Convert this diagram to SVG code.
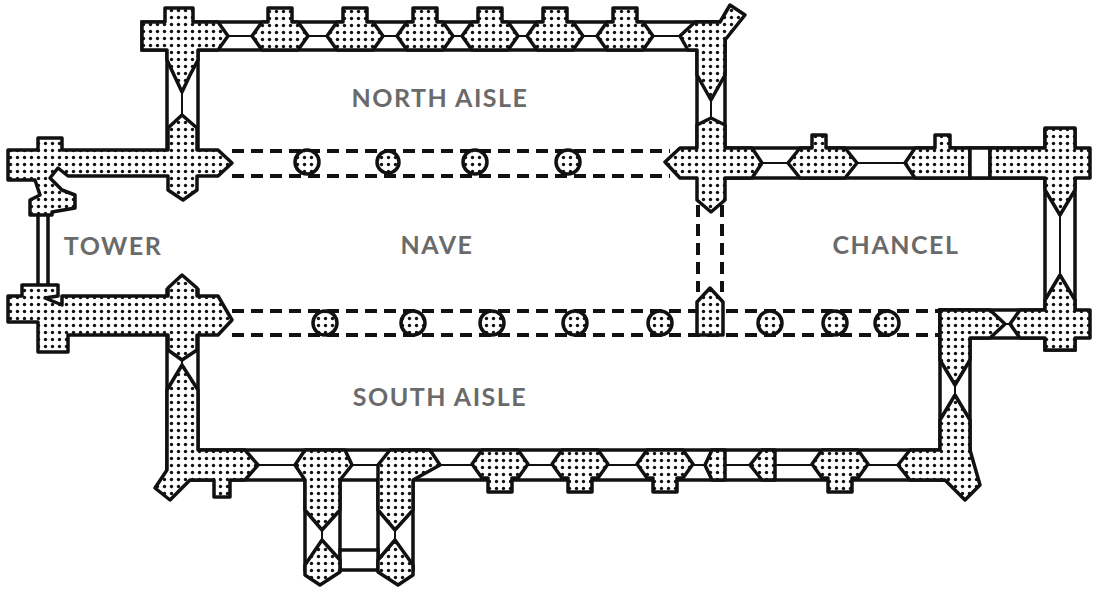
<svg xmlns="http://www.w3.org/2000/svg" width="1100" height="593" viewBox="0 0 1100 593">
<defs>
<pattern id="dots" width="7" height="7" patternUnits="userSpaceOnUse"><rect width="7" height="7" fill="#fff"/><circle cx="3.5" cy="3.5" r="1.7" fill="#111"/></pattern>
<g id="bn"><polygon points="-28,14 -18,0 -12,0 -12,-14 12,-14 12,0 18,0 28,14 18,28 -18,28"/></g>
<g id="bs"><polygon points="-28,14 -18,0 18,0 28,14 18,28 12,28 12,42 -12,42 -12,28 -18,28"/></g>
</defs>
<style>
.w{fill:#fff;stroke:#111;stroke-width:3.5}
.d{fill:url(#dots);stroke:#111;stroke-width:3.5;stroke-linejoin:round}
.win{stroke:#111;stroke-width:2;fill:none}
.dash{stroke:#111;stroke-width:4;stroke-dasharray:12 7;fill:none}
.pier{fill:url(#dots);stroke:#111;stroke-width:3.5}
.t{font-family:Lato,"Open Sans",sans-serif;font-weight:bold;font-size:25px;fill:#6a6a6a;text-anchor:middle;letter-spacing:1.5px}
</style>
<rect width="1100" height="593" fill="#fff"/>

<rect class="w" x="142" y="22" width="583" height="28"/>
<rect class="w" x="167" y="22" width="31" height="140"/>
<rect class="w" x="697" y="22" width="28" height="140"/>
<rect class="w" x="700" y="148" width="375" height="30"/>
<rect class="w" x="1045" y="130" width="30" height="220"/>
<rect class="w" x="940" y="310" width="135" height="28"/>
<rect class="w" x="940" y="310" width="30" height="170"/>
<rect class="w" x="167" y="290" width="31" height="190"/>
<rect class="w" x="167" y="450" width="803" height="30"/>
<rect class="w" x="305" y="480" width="35" height="90"/>
<rect class="w" x="378" y="480" width="35" height="90"/>
<rect class="w" x="340" y="550" width="38" height="20"/>
<rect class="w" x="38" y="205" width="10" height="85"/>
<g class="win">
<line x1="200" y1="36" x2="700" y2="36"/>
<line x1="182" y1="50" x2="182" y2="125"/>
<line x1="711" y1="50" x2="711" y2="150"/>
<line x1="720" y1="163" x2="1050" y2="163"/>
<line x1="1060" y1="178" x2="1060" y2="310"/>
<line x1="970" y1="324" x2="1050" y2="324"/>
<line x1="955" y1="338" x2="955" y2="455"/>
<line x1="182" y1="350" x2="182" y2="455"/>
<line x1="200" y1="465" x2="945" y2="465"/>
<line x1="322" y1="480" x2="322" y2="560"/>
<line x1="395" y1="480" x2="395" y2="560"/>
</g>
<rect x="200" y="52" width="495" height="96" fill="#fff"/>

<g id="arcades">
<line class="dash" x1="232" y1="151" x2="670" y2="151"/>
<line class="dash" x1="232" y1="176" x2="670" y2="176"/>
<line class="dash" x1="232" y1="311" x2="940" y2="311"/>
<line class="dash" x1="232" y1="335" x2="940" y2="335"/>
<line class="dash" x1="698" y1="205" x2="698" y2="292"/>
<line class="dash" x1="722" y1="205" x2="722" y2="292"/>
</g>

<g id="piers">
<circle class="pier" cx="307" cy="162" r="12"/>
<circle class="pier" cx="388" cy="162" r="11"/>
<circle class="pier" cx="475" cy="162" r="12"/>
<circle class="pier" cx="568" cy="162" r="12"/>
<circle class="pier" cx="325" cy="323" r="12"/>
<circle class="pier" cx="413" cy="323" r="12"/>
<circle class="pier" cx="492" cy="323" r="12"/>
<circle class="pier" cx="575" cy="323" r="12"/>
<circle class="pier" cx="660" cy="323" r="12"/>
<circle class="pier" cx="770" cy="323" r="12"/>
<circle class="pier" cx="835" cy="323" r="12"/>
<circle class="pier" cx="887" cy="323" r="12"/>
<polygon class="d" points="697,335 697,302 710,288 723,302 723,335"/>
</g>

<g id="north-wall" class="d">
<use href="#bn" x="280" y="22"/>
<use href="#bn" x="355" y="22"/>
<use href="#bn" x="425" y="22"/>
<use href="#bn" x="490" y="22"/>
<use href="#bn" x="555" y="22"/>
<use href="#bn" x="625" y="22"/>
<polygon points="142,22 165,22 165,8 193,8 193,22 218,22 228,36 218,50 198,50 198,60 190,75 182,92 174,75 167,60 167,50 142,50"/>
<polygon points="680,36 695,22 720,22 730,5 745,15 725,40 725,75 711,100 697,75 697,50 688,50"/>
</g>
<g id="tower" class="d">
<polygon points="8,150 38,150 38,138 62,138 62,150 168,150 168,128 182,115 197,128 197,150 218,150 232,163 218,176 197,176 197,190 183,200 168,190 168,176 68,176 58,168 50,178 62,190 75,195 75,208 52,212 52,215 30,215 30,200 40,195 35,180 8,180"/>
<polygon points="8,296 22,296 22,285 58,285 58,296 45,298 62,305 62,296 168,296 168,288 182,275 197,288 197,296 218,296 232,320 218,335 197,335 197,350 182,360 168,350 168,335 68,335 68,352 38,352 38,322 8,322"/>
</g>
<g id="chancel" class="d">
<polygon points="665,162 680,148 697,148 697,125 711,118 725,125 725,148 752,148 762,163 752,178 725,178 725,200 711,212 697,200 697,178 680,178"/>
<polygon points="788,163 800,148 812,148 812,135 826,135 826,148 845,148 857,163 845,178 800,178"/>
<polygon points="905,163 915,148 935,148 935,135 950,135 950,148 970,148 970,178 915,178"/>
<rect x="970" y="148" width="20" height="30" fill="#fff"/>
<polygon points="990,148 1045,148 1045,128 1075,128 1075,148 1090,148 1090,178 1075,178 1075,190 1060,215 1045,190 1045,178 990,178"/>
<polygon points="1045,310 1045,300 1060,275 1075,300 1075,310 1090,310 1090,338 1075,338 1075,350 1045,350 1045,338 1020,338 1010,324 1020,310"/>
<polygon points="940,310 990,310 1005,324 990,338 970,338 970,360 955,385 940,360"/>
<polygon points="940,420 955,395 970,420 970,450 980,485 965,500 945,480 910,480 898,465 910,450 940,450"/>
</g>
<g id="south-wall" class="d">
<polygon points="167,390 182,365 198,390 198,450 245,450 258,465 245,480 230,480 230,497 214,497 214,480 190,480 170,500 155,488 167,470"/>
<polygon points="295,465 305,450 345,450 352,465 340,480 340,510 322,530 305,510 305,480"/>
<polygon points="378,465 390,450 430,450 440,465 413,480 413,510 395,530 378,510"/>
<polygon points="305,565 322,540 340,560 340,572 320,585 305,575"/>
<polygon points="378,560 395,540 413,565 413,575 398,585 378,572"/>
<use href="#bs" x="500" y="450"/>
<use href="#bs" x="580" y="450"/>
<use href="#bs" x="665" y="450"/>
<polygon points="705,465 712,450 725,450 725,480 712,480"/>
<polygon points="750,465 762,450 775,450 775,480 762,480"/>
<use href="#bs" x="840" y="450"/>
</g>

<g id="labels">
<text class="t" x="440" y="107">NORTH AISLE</text>
<text class="t" x="437" y="254">NAVE</text>
<text class="t" x="113" y="255">TOWER</text>
<text class="t" x="896" y="254">CHANCEL</text>
<text class="t" x="440" y="406">SOUTH AISLE</text>
</g>
</svg>
